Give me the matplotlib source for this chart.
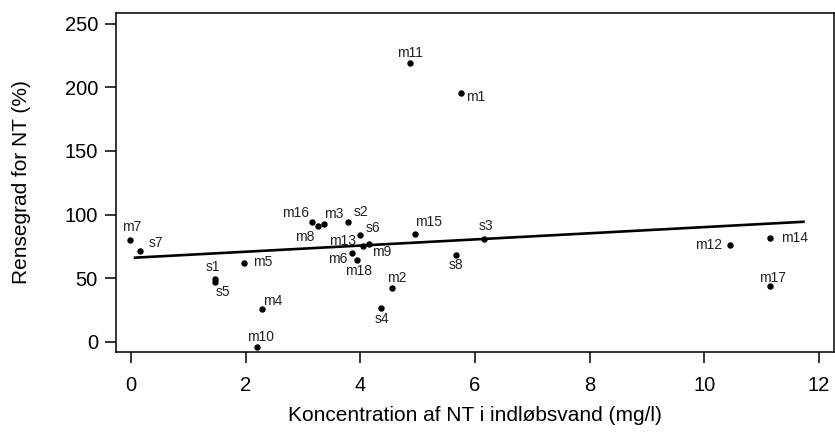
import matplotlib
matplotlib.use("Agg")
import matplotlib.pyplot as plt

plt.rcParams["font.family"] = ["Liberation Sans", "DejaVu Sans"]

# ---- data ----
names = ["m7", "s7", "s1", "s5", "m5", "m4", "m10", "m16", "m8", "m3", "s2",
         "s6", "m13", "m9", "m6", "m18", "m15", "s3", "s8", "m2", "s4",
         "m12", "m14", "m17", "m11", "m1"]
conc = [-0.02, 0.16, 1.46, 1.46, 1.97, 2.28, 2.19, 3.16, 3.26, 3.36, 3.79,
        3.99, 4.05, 4.16, 3.86, 3.95, 4.95, 6.16, 5.66, 4.56, 4.36,
        10.45, 11.14, 11.14, 4.86, 5.76]
removal = [80.3, 71.1, 49.6, 47.0, 62.0, 26.0, -4.0, 94.0, 91.0, 92.4, 94.2,
           83.5, 75.0, 76.9, 69.8, 64.0, 84.5, 80.8, 68.2, 42.5, 26.2,
           75.8, 81.9, 44.0, 218.7, 195.5]

# fitted line as drawn in the reference
fit_x = [0.05, 11.75]
fit_intercept = 65.9
fit_slope = 2.42

# ---- label placement (pixel offset, alignment) ----
label_pos = {
    "m7": (2, 13, "center"), "s7": (9, 8, "left"), "s1": (-2, 12, "center"),
    "s5": (8, -10, "center"), "m5": (9, 1, "left"), "m4": (1, 8, "left"),
    "m10": (4, 10, "center"), "m16": (-3, 9, "right"), "m8": (-3, -11, "right"),
    "m3": (0, 10, "left"), "s2": (5, 10, "left"), "s6": (6, 7, "left"),
    "m13": (-7, 5, "right"), "m9": (3, -8, "left"), "m6": (-5, -6, "right"),
    "m18": (1, -11, "center"), "m15": (0, 12, "left"), "s3": (2, 13, "center"),
    "s8": (0, -10, "center"), "m2": (4, 10, "center"), "s4": (1, -11, "center"),
    "m12": (-8, 0, "right"), "m14": (11, 0, "left"), "m17": (3, 8, "center"),
    "m11": (0, 10, "center"), "m1": (5, -4, "left"),
}

fig = plt.figure(figsize=(8.35, 4.34), dpi=100)
ax = fig.add_axes([116 / 835, 1 - 352.3 / 434, (834 - 116) / 835, (352.3 - 12.7) / 434])

ax.plot(conc, removal, "o", color="black", markersize=3.6, linestyle="none")
ax.plot(fit_x, [fit_intercept + fit_slope * v for v in fit_x],
        color="black", linewidth=1.9, solid_capstyle="butt")

for n, x, y in zip(names, conc, removal):
    dx, dy, ha = label_pos[n]
    ax.annotate(n, (x, y), xytext=(dx, dy), textcoords="offset pixels",
                ha=ha, va="center", fontsize=10, color="#222222")

ax.set_xlim(-0.26, 12.26)
ax.set_ylim(-8.3, 258.6)
ax.set_xticks(range(0, 13, 2))
ax.set_yticks(range(0, 251, 50))

for s in ax.spines.values():
    s.set_linewidth(1.1)
ax.tick_params(direction="out", length=8, width=1.1, labelsize=14.5)
ax.tick_params(axis="x", pad=9)
ax.tick_params(axis="y", pad=5)

ax.set_xlabel("Koncentration af NT i indløbsvand (mg/l)", fontsize=15, labelpad=8)
ax.set_ylabel("Rensegrad for NT (%)", fontsize=15, labelpad=24.5)

fig.savefig("out.png", dpi=100, facecolor="white")
